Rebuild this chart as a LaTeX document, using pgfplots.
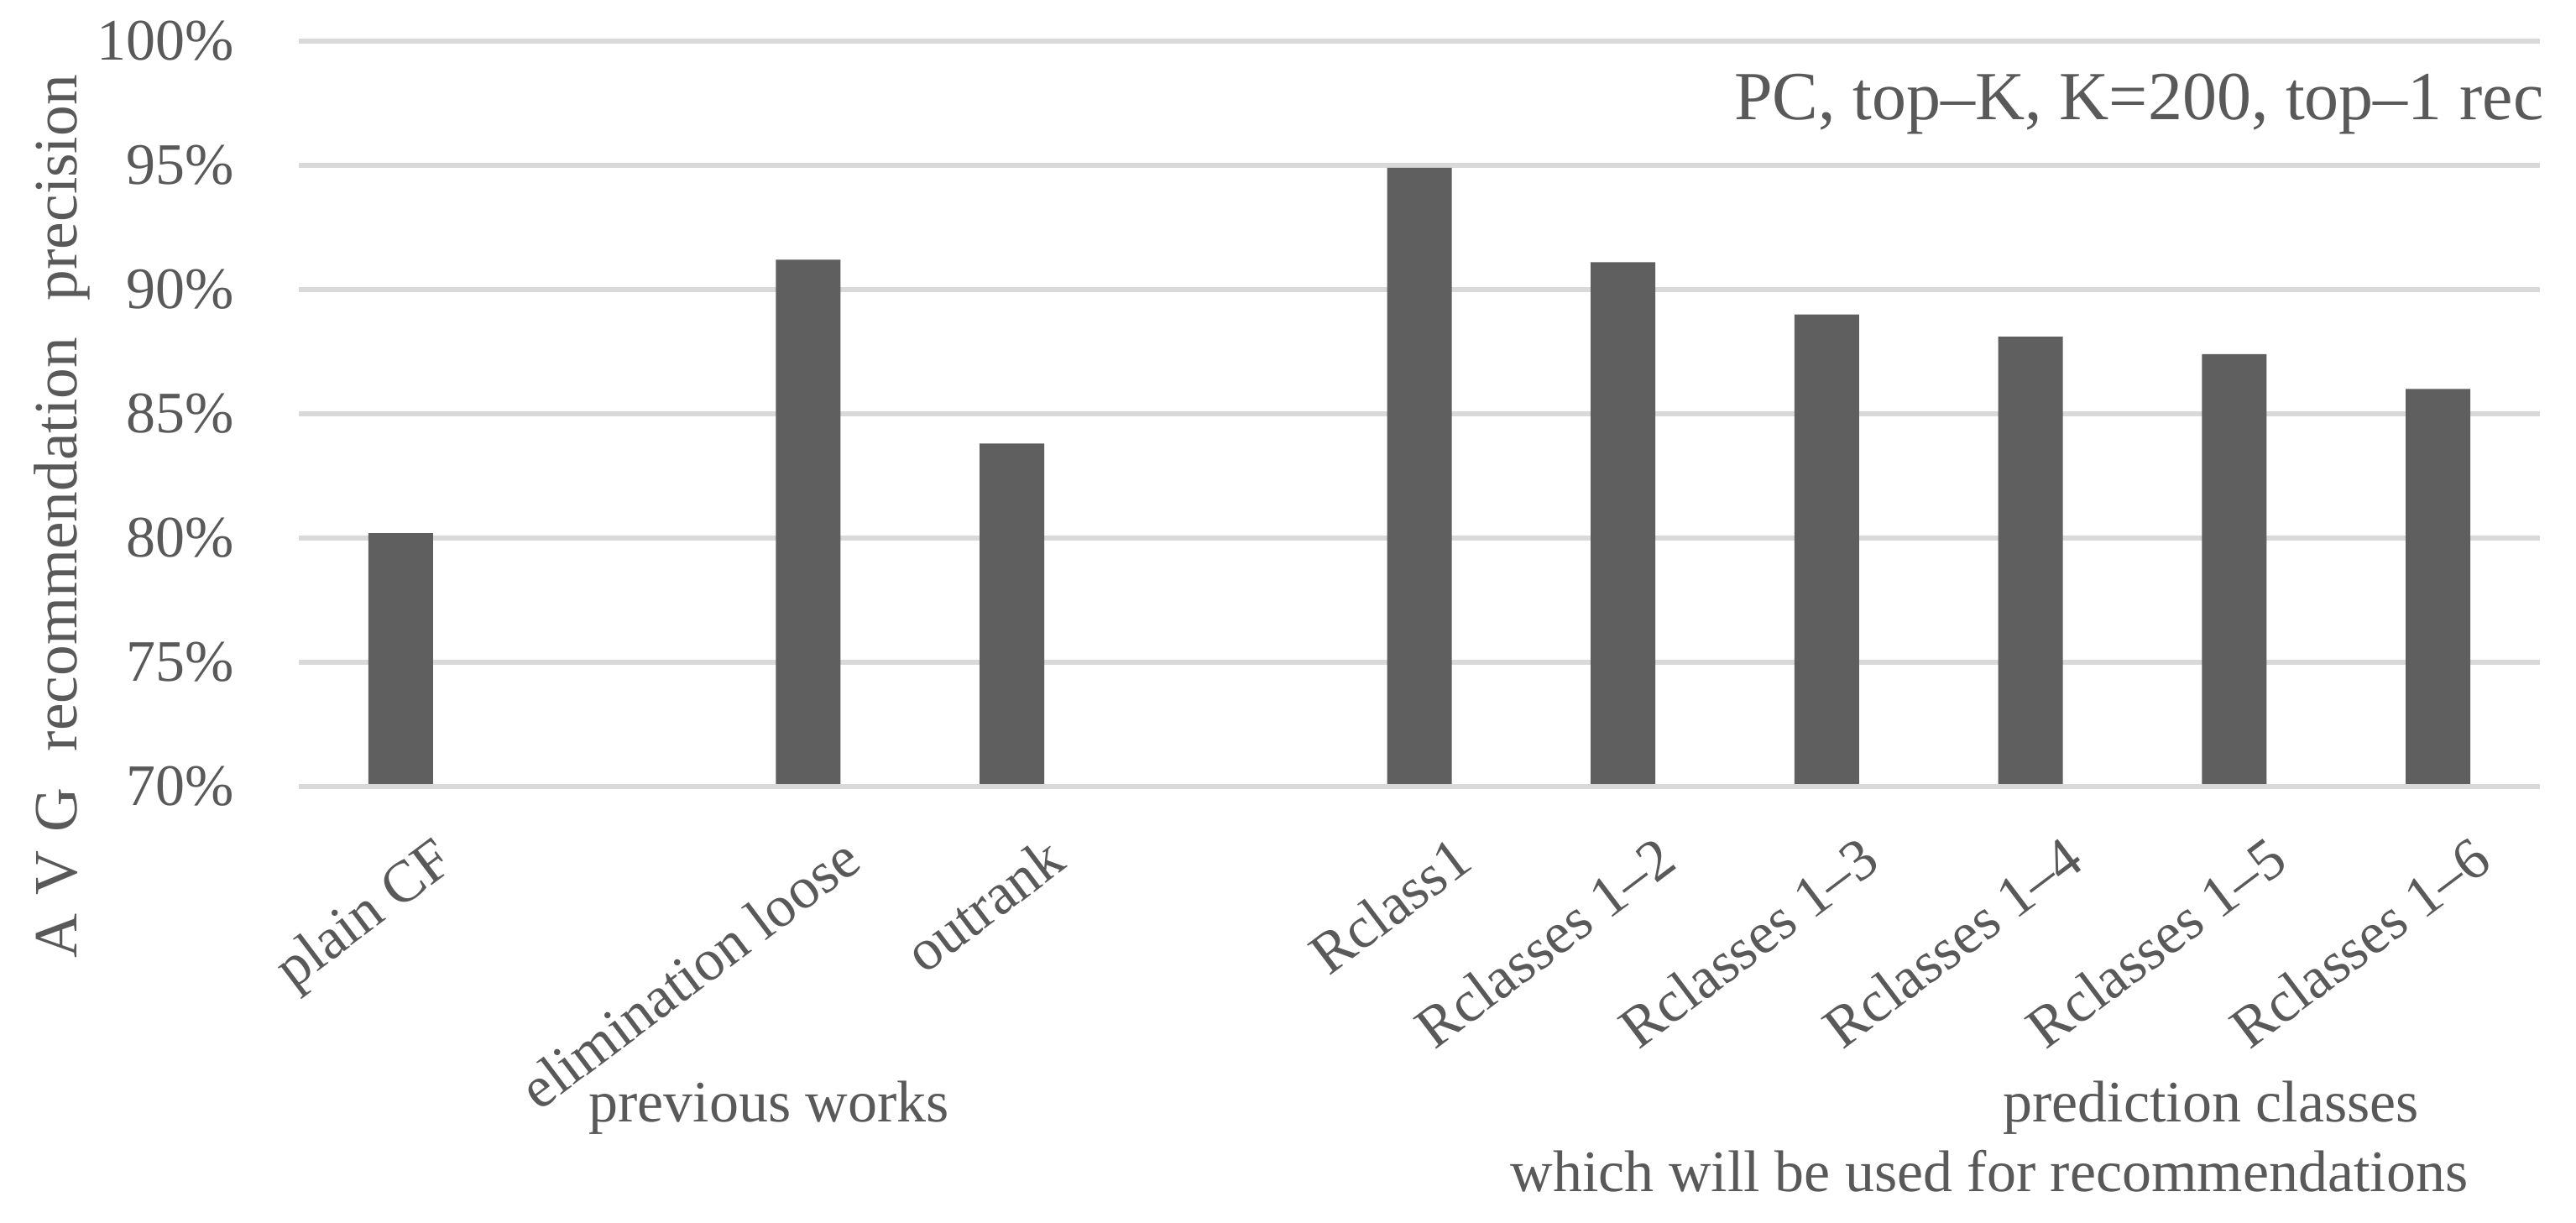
\documentclass[border=0pt]{standalone}
\usepackage{fontspec}
\setmainfont{Liberation Serif}
\usepackage{pgfplots}
\pgfplotsset{compat=1.18}
\definecolor{txt}{HTML}{595959}
\definecolor{barc}{HTML}{5F5F5F}
\definecolor{gridc}{HTML}{D9D9D9}
\newcommand{\tfont}{\fontsize{10.5}{12.6}\selectfont}

\begin{document}
\begin{tikzpicture}
\path[use as bounding box] (-53.4pt,-78pt) rectangle (406.95pt,140.55pt);
\begin{axis}[
    name=ax,
    scale only axis,
    width=400.5pt, height=133.2pt,
    ybar, bar width=11.55pt,
    xmin=-0.5, xmax=10.5,
    ymin=70, ymax=100,
    xtick={0,...,10},
    xticklabels={plain CF,{},elimination loose,outrank,{},Rclass1,Rclasses 1–2,Rclasses 1–3,Rclasses 1–4,Rclasses 1–5,Rclasses 1–6},
    ytick={70,75,...,100},
    yticklabels={70\%,75\%,80\%,85\%,90\%,95\%,100\%},
    ymajorgrids,
    grid style={line width=1pt, gridc},
    axis line style={draw=none},
    major tick length=0pt,
    tick label style={font=\tfont, text=txt},
    yticklabel style={anchor=east, inner sep=0pt, xshift=-11.4pt},
    xticklabel style={rotate=37, anchor=north east, inner sep=0pt, yshift=-10pt, xshift=-0.5pt},
    clip=false,
]
\addplot[fill=barc, draw=none] coordinates {
    (0,80.2) (2,91.2) (3,83.8) (5,94.9) (6,91.1) (7,89.0) (8,88.1) (9,87.4) (10,86.0)
};
\draw[line width=1pt, gridc] (rel axis cs:0,0) -- (rel axis cs:1,0);
\end{axis}
\node[rotate=90, anchor=base, font=\fontsize{11}{13}\selectfont, text=txt] at (-39.6pt,48.2pt)
    {A\hspace{0.3em}V\hspace{0.3em}G\hspace{0.6em}recommendation\hspace{0.6em}precision};
\node[anchor=base east, font=\fontsize{12.3}{14}\selectfont, text=txt] at (404.7pt,119.1pt)
    {PC, top–K, K=200, top–1 rec};
\node[anchor=base, font=\tfont, text=txt] at (84pt,-60pt) {previous works};
\node[anchor=base, font=\tfont, text=txt] at (341.7pt,-60pt) {prediction classes};
\node[anchor=base, font=\tfont, text=txt] at (302.1pt,-72.45pt) {which will be used for recommendations};
\end{tikzpicture}
\end{document}
